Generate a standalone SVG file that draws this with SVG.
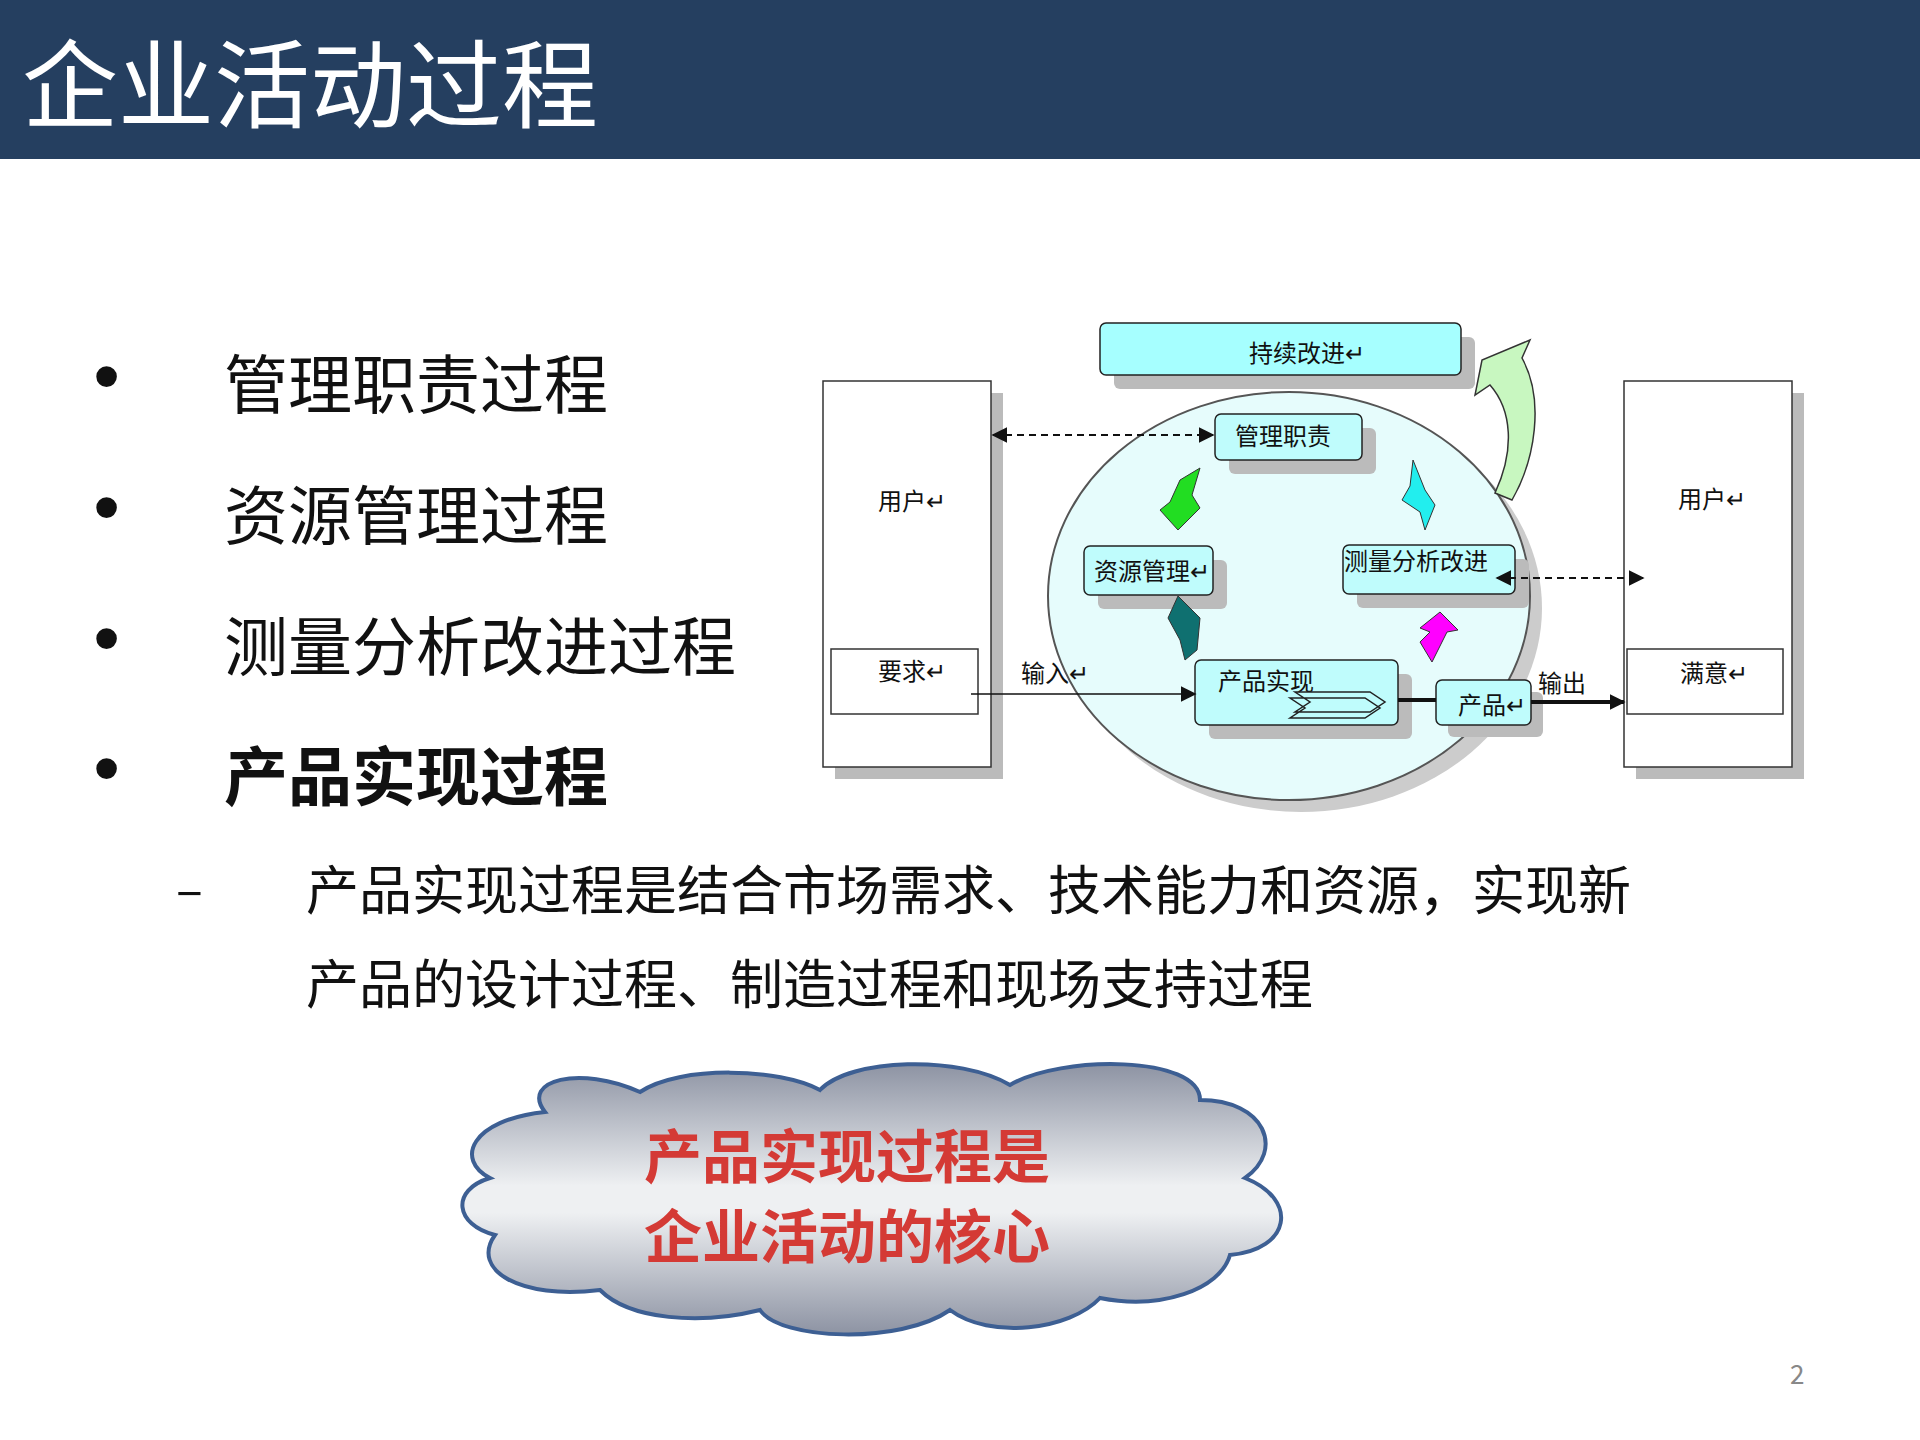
<svg xmlns="http://www.w3.org/2000/svg" width="1920" height="1440" viewBox="0 0 1920 1440">
<defs>
<style>
.t{font-family:"Noto Sans CJK SC","Liberation Sans",sans-serif}
.b{font-size:64px;fill:#111}
.s{font-size:24px;fill:#111}
.bx{fill:#BFFCFC;stroke:#222;stroke-width:1.5}
.sh{fill:#bbb}
.wb{fill:#fff;stroke:#333;stroke-width:1.5}
.dash{stroke:#111;stroke-width:2;stroke-dasharray:7 5;fill:none}
.dot{font-family:"Liberation Sans",sans-serif;font-size:72px;font-weight:bold}
</style>
<linearGradient id="cg" x1="0" y1="0" x2="0" y2="1">
<stop offset="0" stop-color="#8d93a3"/><stop offset="0.45" stop-color="#eef0f2"/><stop offset="0.55" stop-color="#eef0f2"/><stop offset="1" stop-color="#8d93a3"/>
</linearGradient>
<marker id="ah2" viewBox="0 0 10 10" refX="9" refY="5" markerWidth="16" markerHeight="18" markerUnits="userSpaceOnUse" orient="auto-start-reverse"><path d="M0,0L10,5L0,10z" fill="#111"/></marker>
</defs>
<rect width="1920" height="1440" fill="#fff"/>
<rect width="1920" height="159" fill="#253F60"/>
<text class="t" x="22" y="120" font-size="96" fill="#fff">企业活动过程</text>
<g id="bullets" class="t b">
<text class="dot" x="94" y="400">•</text><text x="224" y="408">管理职责过程</text>
<text class="dot" x="94" y="531">•</text><text x="224" y="539">资源管理过程</text>
<text class="dot" x="94" y="662">•</text><text x="224" y="670">测量分析改进过程</text>
<text class="dot" x="94" y="792">•</text><text x="224" y="800" font-weight="bold">产品实现过程</text>
<text x="176" y="908" font-size="50">–</text>
<text x="306" y="910" font-size="53">产品实现过程是结合市场需求、技术能力和资源，实现新</text>
<text x="306" y="1004" font-size="53">产品的设计过程、制造过程和现场支持过程</text>
</g>
<g id="cloud">
<path d="M545,1112 C520,1080 580,1065 640,1092 C680,1065 780,1068 820,1090 C850,1058 960,1055 1010,1085 C1060,1055 1200,1055 1200,1100 C1265,1100 1285,1150 1245,1178 C1300,1200 1290,1250 1230,1255 C1220,1290 1160,1310 1100,1298 C1070,1330 990,1340 950,1310 C900,1345 780,1340 760,1310 C700,1325 630,1320 600,1290 C520,1300 470,1270 495,1235 C455,1225 450,1190 490,1178 C455,1160 470,1120 545,1112 Z" fill="url(#cg)" stroke="#3D5F93" stroke-width="4"/>
<text class="t" x="847" y="1178" font-size="58" font-weight="bold" fill="#D43A35" text-anchor="middle">产品实现过程是</text>
<text class="t" x="847" y="1258" font-size="58" font-weight="bold" fill="#D43A35" text-anchor="middle">企业活动的核心</text>
</g>
<text class="t" x="1790" y="1384" font-size="26" fill="#888">2</text>
<g id="left-user"><rect class="sh" x="835" y="393" width="168" height="386"/><rect class="wb" x="823" y="381" width="168" height="386"/><text class="t s" x="878" y="510">用户↵</text>
<rect class="wb" x="831" y="649" width="147" height="65"/><text class="t s" x="878" y="680">要求↵</text></g>
<g id="right-user"><rect class="sh" x="1636" y="393" width="168" height="386"/><rect class="wb" x="1624" y="381" width="168" height="386"/><text class="t s" x="1678" y="508">用户↵</text>
<rect class="wb" x="1627" y="649" width="156" height="65"/><text class="t s" x="1680" y="682">满意↵</text></g>
<ellipse cx="1301" cy="608" rx="241" ry="204" fill="#ccc"/>
<ellipse id="cycle" cx="1289" cy="596" rx="241" ry="204" fill="#E6FCFC" stroke="#555" stroke-width="2"/>
<g id="improve"><rect class="sh" x="1114" y="337" width="361" height="52" rx="6"/><rect x="1100" y="323" width="361" height="52" rx="6" fill="#A6FFFF" stroke="#222" stroke-width="1.5"/><text class="t s" x="1249" y="362">持续改进↵</text></g>
<g id="mgmt"><rect class="sh" x="1229" y="428" width="147" height="46" rx="6"/><rect class="bx" x="1215" y="414" width="147" height="46" rx="6"/><text class="t s" x="1235" y="445">管理职责</text></g>
<g id="res"><rect class="sh" x="1098" y="560" width="129" height="49" rx="6"/><rect class="bx" x="1084" y="546" width="129" height="49" rx="6"/><text class="t s" x="1094" y="580">资源管理↵</text></g>
<g id="meas"><rect class="sh" x="1357" y="559" width="172" height="49" rx="6"/><rect class="bx" x="1343" y="545" width="172" height="49" rx="6"/><text class="t s" x="1344" y="570">测量分析改进</text></g>
<g id="real"><rect class="sh" x="1209" y="674" width="203" height="65" rx="6"/><rect class="bx" x="1195" y="660" width="203" height="65" rx="6"/><text class="t s" x="1218" y="690">产品实现</text>
<path d="M1295,692 L1370,692 L1385,702 L1370,712 L1295,712 L1310,702 Z M1290,698 L1365,698 L1380,708 L1365,718 L1290,718 L1305,708 Z" fill="none" stroke="#222" stroke-width="1.5"/></g>
<g id="prod"><rect class="sh" x="1448" y="692" width="95" height="45" rx="6"/><rect class="bx" x="1436" y="680" width="95" height="45" rx="6"/><text class="t s" x="1458" y="714">产品↵</text></g>
<g id="connectors">
<line class="dash" x1="993" y1="435" x2="1213" y2="435" marker-start="url(#ah2)" marker-end="url(#ah2)"/>
<line class="dash" x1="1497" y1="578" x2="1643" y2="578" marker-start="url(#ah2)" marker-end="url(#ah2)"/>
<line x1="971" y1="694" x2="1195" y2="694" stroke="#111" stroke-width="1.5" marker-end="url(#ah2)"/>
<line x1="1398" y1="700" x2="1436" y2="700" stroke="#111" stroke-width="4"/>
<line x1="1531" y1="702" x2="1624" y2="702" stroke="#111" stroke-width="4" marker-end="url(#ah2)"/>
<text class="t s" x="1021" y="682">输入↵</text>
<text class="t s" x="1538" y="692">输出</text>
<path d="M1200,468 L1192,495 L1200,508 L1178,530 L1160,510 L1170,502 L1180,480 Z" fill="#22DD22" stroke="#333"/>
<path d="M1178,596 L1200,618 L1197,650 L1185,660 L1180,640 L1168,618 Z" fill="#0F7070" stroke="#333"/>
<path d="M1440,612 L1458,630 L1447,632 L1432,662 L1420,642 L1430,632 L1420,628 Z" fill="#FF00FF" stroke="#333"/>
<path d="M1413,460 L1425,490 L1435,505 L1425,530 L1420,512 L1402,500 L1410,486 Z" fill="#22EEEE" stroke="#333"/>
<path d="M1495,493 C1515,450 1512,410 1490,385 L1475,395 L1482,360 L1530,340 L1522,358 C1545,400 1535,460 1512,500 Z" fill="#C8F7C0" stroke="#333" stroke-width="1.5"/>
</g>
</svg>
